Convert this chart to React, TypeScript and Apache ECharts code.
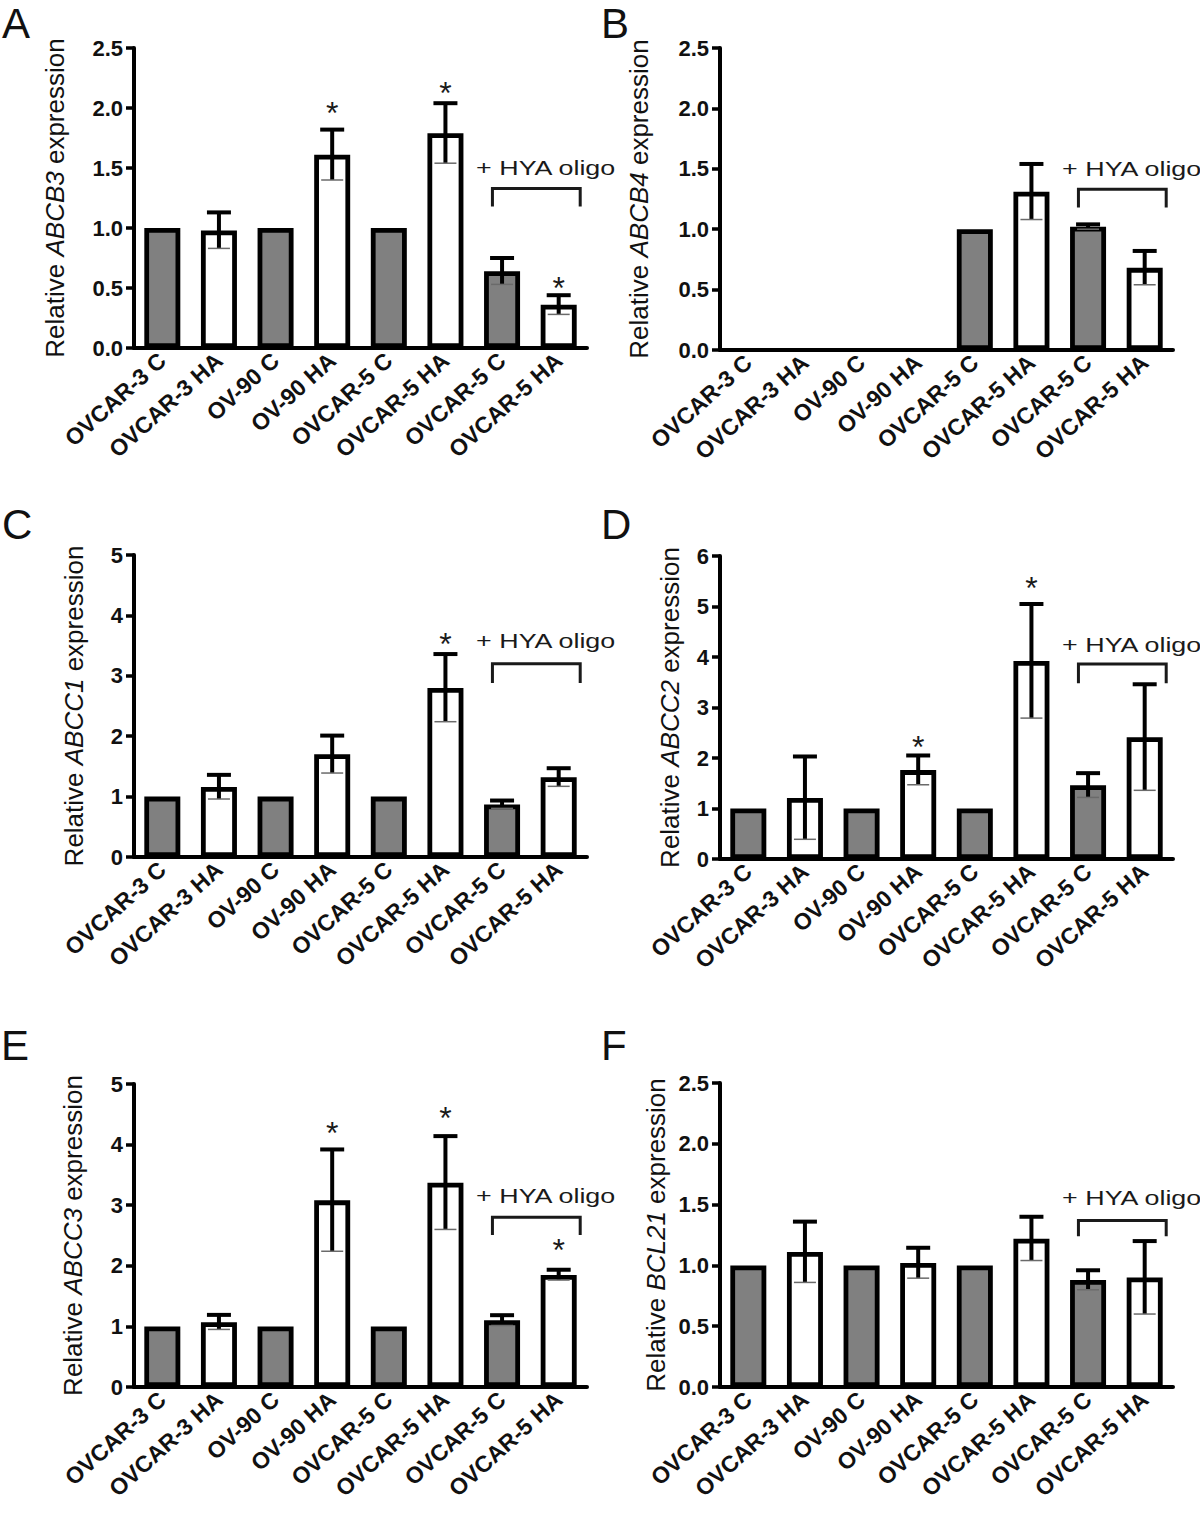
import React, { useEffect, useRef } from "react";
import * as echarts from "echarts";

// ---------- data ----------
const categories = [
  "OVCAR-3 C",
  "OVCAR-3 HA",
  "OV-90 C",
  "OV-90 HA",
  "OVCAR-5 C",
  "OVCAR-5 HA",
  "OVCAR-5 C",
  "OVCAR-5 HA",
];

const panelLetters = ["A", "B", "C", "D", "E", "F"];
const genes = ["ABCB3", "ABCB4", "ABCC1", "ABCC2", "ABCC3", "BCL21"];
const yMaxes = [2.5, 2.5, 5, 6, 5, 2.5];
const ySteps = [0.5, 0.5, 1, 1, 1, 0.5];
const yDecimals = [1, 1, 0, 0, 0, 1];

const abcb3Mean = [1.0, 0.98, 1.0, 1.61, 1.0, 1.79, 0.64, 0.36];
const abcb3Err = [0, 0.15, 0, 0.21, 0, 0.25, 0.11, 0.08];
const abcb4Mean = [0, 0, 0, 0, 1.0, 1.31, 1.02, 0.68];
const abcb4Err = [0, 0, 0, 0, 0, 0.23, 0.02, 0.14];
const abcc1Mean = [1.0, 1.16, 1.0, 1.7, 1.0, 2.8, 0.87, 1.32];
const abcc1Err = [0, 0.2, 0, 0.31, 0, 0.56, 0.065, 0.15];
const abcc2Mean = [1.0, 1.21, 1.0, 1.76, 1.0, 3.92, 1.46, 2.41];
const abcc2Err = [0, 0.82, 0, 0.29, 0, 1.13, 0.24, 1.05];
const abcc3Mean = [1.0, 1.07, 1.0, 3.08, 1.0, 3.37, 1.1, 1.85];
const abcc3Err = [0, 0.12, 0, 0.84, 0, 0.77, 0.085, 0.085];
const bcl21Mean = [1.0, 1.11, 1.0, 1.02, 1.0, 1.22, 0.88, 0.9];
const bcl21Err = [0, 0.25, 0, 0.125, 0, 0.18, 0.08, 0.3];

// significance stars: [category index, value where the star sits]
const abcb3Stars = [[3, 2.02], [5, 2.18], [7, 0.56]];
const abcb4Stars: number[][] = [];
const abcc1Stars = [[5, 3.65]];
const abcc2Stars = [[3, 2.36], [5, 5.51]];
const abcc3Stars = [[3, 4.31], [5, 4.55], [7, 2.38]];
const bcl21Stars: number[][] = [];

// "+ HYA oligo" bracket: [label value, bracket top value, bracket end value]
const abcb3Bracket = [1.5, 1.33, 1.18];
const abcb4Bracket = [1.5, 1.33, 1.18];
const abcc1Bracket = [3.58, 3.2, 2.88];
const abcc2Bracket = [4.24, 3.86, 3.48];
const abcc3Bracket = [3.16, 2.8, 2.51];
const bcl21Bracket = [1.56, 1.37, 1.24];

const bracketLabel = "+ HYA oligo";

const means = [abcb3Mean, abcb4Mean, abcc1Mean, abcc2Mean, abcc3Mean, bcl21Mean];
const errs = [abcb3Err, abcb4Err, abcc1Err, abcc2Err, abcc3Err, bcl21Err];
const stars = [abcb3Stars, abcb4Stars, abcc1Stars, abcc2Stars, abcc3Stars, bcl21Stars];
const brackets = [abcb3Bracket, abcb4Bracket, abcc1Bracket, abcc2Bracket, abcc3Bracket, bcl21Bracket];

// ---------- layout ----------
const FONT = "'Liberation Sans', Arial, Helvetica, sans-serif";
const INK = "#111111";
const GRID_W = 453;
const layout = [
  { left: 134, top: 48, height: 300, nameGap: 66, lx: 2, ly: 2 },
  { left: 720, top: 48, height: 302, nameGap: 68, lx: 601, ly: 2 },
  { left: 134, top: 555, height: 302, nameGap: 47, lx: 2, ly: 503 },
  { left: 720, top: 556, height: 303, nameGap: 37, lx: 601, ly: 503 },
  { left: 134, top: 1084, height: 303, nameGap: 48, lx: 1, ly: 1024 },
  { left: 720, top: 1083, height: 304, nameGap: 51, lx: 601, ly: 1024 },
];

function buildOption() {
  const grid: any[] = [];
  const xAxis: any[] = [];
  const yAxis: any[] = [];
  const series: any[] = [];
  const graphic: any[] = [];

  for (let k = 0; k < 6; k++) {
    const L = layout[k];
    grid.push({ left: L.left, top: L.top, width: GRID_W, height: L.height, containLabel: false });
    xAxis.push({
      type: "category",
      gridIndex: k,
      data: categories,
      axisLine: { lineStyle: { color: "#000", width: 4 } },
      axisTick: { alignWithLabel: true, interval: 0, length: 8, lineStyle: { color: "#000", width: 3.5 } },
      axisLabel: {
        interval: 0,
        rotate: 42,
        margin: 9,
        fontFamily: FONT,
        fontWeight: "bold",
        fontSize: 23,
        color: INK,
      },
      splitLine: { show: false },
    });
    const dec = yDecimals[k];
    yAxis.push({
      type: "value",
      gridIndex: k,
      min: 0,
      max: yMaxes[k],
      interval: ySteps[k],
      name: "Relative {i|" + genes[k] + "} expression",
      nameLocation: "middle",
      nameRotate: 90,
      nameGap: L.nameGap,
      nameTextStyle: {
        fontFamily: FONT,
        fontSize: 26,
        color: INK,
        rich: { i: { fontFamily: FONT, fontSize: 26, fontStyle: "italic", color: INK } },
      },
      axisLine: { show: true, lineStyle: { color: "#000", width: 4 } },
      axisTick: { show: true, length: 8, lineStyle: { color: "#000", width: 3.5 } },
      axisLabel: {
        margin: 11,
        fontFamily: FONT,
        fontWeight: "bold",
        fontSize: 22,
        color: INK,
        formatter: (v: number) => v.toFixed(dec),
      },
      splitLine: { show: false },
    });

    const m = means[k];
    const e = errs[k];
    series.push({
      type: "bar",
      xAxisIndex: k,
      yAxisIndex: k,
      barWidth: 36,
      z: 2,
      data: m.map((v, i) => ({
        value: v,
        itemStyle: {
          color: categories[i].endsWith(" C") ? "#808080" : "#ffffff",
          borderColor: "#000",
          borderWidth: v === 0 ? 0 : 4.8,
        },
      })),
    });

    series.push({
      type: "custom",
      xAxisIndex: k,
      yAxisIndex: k,
      z: 3,
      silent: true,
      data: m.map((v, i) => [i, v, e[i]]).filter((d) => d[2] > 0),
      renderItem: (params: any, api: any) => {
        const i = api.value(0);
        const mv = api.value(1);
        const ev = api.value(2);
        const top = api.coord([i, mv + ev]);
        const bot = api.coord([i, mv - ev]);
        return {
          type: "group",
          children: [
            { type: "line", shape: { x1: top[0], y1: top[1], x2: bot[0], y2: bot[1] }, style: { stroke: "#000", lineWidth: 4 } },
            { type: "line", shape: { x1: top[0] - 12, y1: top[1], x2: top[0] + 12, y2: top[1] }, style: { stroke: "#000", lineWidth: 4 } },
            { type: "line", shape: { x1: bot[0] - 11, y1: bot[1], x2: bot[0] + 11, y2: bot[1] }, style: { stroke: "#6a6a6a", lineWidth: 1.5 } },
          ],
        };
      },
    });

    const br = brackets[k];
    const st = stars[k];
    series.push({
      type: "custom",
      xAxisIndex: k,
      yAxisIndex: k,
      z: 4,
      silent: true,
      data: [[0, 0]],
      renderItem: (params: any, api: any) => {
        const band = api.size([1, 0])[0];
        const base = api.coord([0, 0]);
        const xOf = (c: number) => base[0] + c * band;
        const yOf = (v: number) => api.coord([0, v])[1];
        const bx1 = xOf(5.83);
        const bx2 = xOf(7.38);
        const children: any[] = [
          {
            type: "polyline",
            shape: { points: [[bx1, yOf(br[2])], [bx1, yOf(br[1])], [bx2, yOf(br[1])], [bx2, yOf(br[2])]] },
            style: { stroke: "#1a1a1a", lineWidth: 3, fill: "none" },
          },
          {
            type: "text",
            x: xOf(6.77),
            y: yOf(br[0]),
            scaleX: 1.28,
            style: {
              text: bracketLabel,
              fontFamily: FONT,
              fontSize: 21,
              fill: "#1a1a1a",
              align: "center",
              verticalAlign: "middle",
            },
          },
        ];
        st.forEach((s) => {
          children.push({
            type: "text",
            x: xOf(s[0]),
            y: yOf(s[1]) + 7,
            style: {
              text: "*",
              fontFamily: FONT,
              fontSize: 32,
              fill: "#1a1a1a",
              align: "center",
              verticalAlign: "middle",
            },
          });
        });
        return { type: "group", children };
      },
    });

    graphic.push({
      type: "text",
      left: L.lx,
      top: L.ly,
      style: { text: panelLetters[k], fontFamily: FONT, fontSize: 42, fill: INK },
    });
  }

  return {
    animation: false,
    backgroundColor: "#ffffff",
    textStyle: { fontFamily: FONT },
    grid,
    xAxis,
    yAxis,
    series,
    graphic,
  };
}

export default function App() {
  const ref = useRef<HTMLDivElement>(null);
  useEffect(() => {
    if (!ref.current) return;
    const chart = echarts.init(ref.current, undefined, { renderer: "svg" });
    chart.setOption(buildOption() as any);
    return () => chart.dispose();
  }, []);
  return (
    <div
      ref={ref}
      style={{ position: "absolute", left: 0, top: 0, width: 1200, height: 1526, background: "#fff" }}
    />
  );
}
